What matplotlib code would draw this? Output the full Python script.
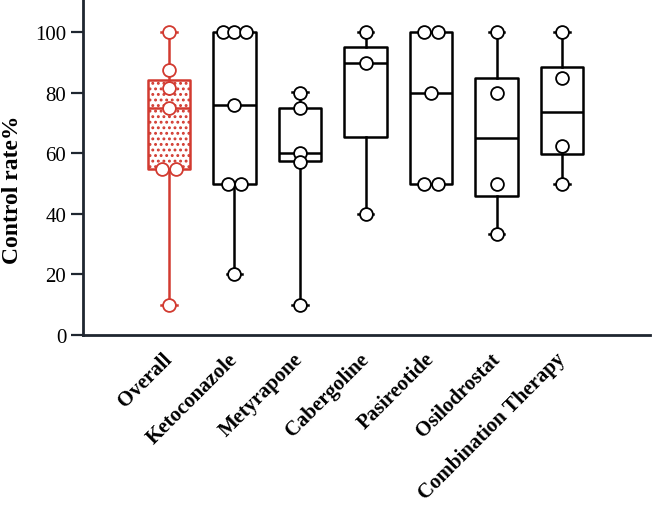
import matplotlib
matplotlib.use("Agg")
import matplotlib.pyplot as plt
import matplotlib.transforms as mtransforms
import numpy as np

plt.rcParams['font.family'] = ['Liberation Serif', 'DejaVu Serif']
RED = '#d23a30'
DARK = '#1f2630'
plt.rcParams['hatch.color'] = RED
plt.rcParams['hatch.linewidth'] = 1.3

categories = ["Overall", "Ketoconazole", "Metyrapone", "Cabergoline",
              "Pasireotide", "Osilodrostat", "Combination Therapy"]

# individual points per group
points = [
    [100, 87.5, 81.5, 75, 55, 55, 10],
    [100, 100, 100, 76, 50, 50, 20],
    [80, 75, 60, 57.1, 10],
    [100, 90, 40],
    [100, 100, 80, 50, 50],
    [100, 80, 50, 33.3],
    [100, 85, 62.5, 50],
]
# box statistics
whislo = [10, 20, 10, 40, 50, 33.3, 50]
q1 = [55, 50, 57.4, 65.5, 50, 46, 59.7]
med = [75, 76, 60.2, 90, 80, 65.2, 73.7]
q3 = [84.3, 100, 75, 95, 100, 84.8, 88.6]
whishi = [100, 100, 80.4, 100, 100, 100, 100]

yticks = [0, 20, 40, 60, 80, 100]

fig = plt.figure(figsize=(6.53, 5.06), dpi=100)
ax = fig.add_axes([83/653, 1 - 336/506, (650-83)/653, 336/506])

stats = []
for i, c in enumerate(categories):
    stats.append(dict(label=c, whislo=whislo[i], q1=q1[i], med=med[i],
                      q3=q3[i], whishi=whishi[i], fliers=[]))

pos = np.arange(len(categories))
bp = ax.bxp(stats, positions=pos, widths=0.65, patch_artist=True,
            showfliers=False, capwidths=0.24, manage_ticks=False)

for i in range(len(categories)):
    col = RED if i == 0 else 'black'
    box = bp['boxes'][i]
    box.set_facecolor('white')
    box.set_edgecolor(col)
    box.set_linewidth(1.8)
    box.set_joinstyle('round')
    if i == 0:
        box.set_hatch('...')
    bp['medians'][i].set_color(col)
    bp['medians'][i].set_linewidth(1.8)
    for w in bp['whiskers'][2*i:2*i+2]:
        w.set_color(col)
        w.set_linewidth(1.8)
    for cp in bp['caps'][2*i:2*i+2]:
        cp.set_color(col)
        cp.set_linewidth(1.8)

# points with simple swarm offsets for duplicate values
for i, vals in enumerate(points):
    col = RED if i == 0 else 'black'
    vals = np.asarray(vals, dtype=float)
    xs = np.full(len(vals), float(i))
    for v in np.unique(vals):
        idx = np.where(vals == v)[0]
        n = len(idx)
        if n > 1:
            sp = 0.21 if n == 2 else 0.17
            xs[idx] = i + (np.arange(n) - (n - 1) / 2) * sp
    ax.scatter(xs, vals, s=85, facecolor='white', edgecolor=col,
               linewidth=1.3, zorder=5, clip_on=False)

ax.set_xlim(-1.31, 7.34)
ax.set_ylim(0, 111)
ax.set_yticks(yticks)
ax.set_yticklabels([str(t) for t in yticks], fontsize=15)
ax.set_ylabel("Control rate%", fontsize=17, fontweight='bold')
ax.yaxis.set_label_coords(-0.106, 0.435)

ax.set_xticks(pos)
ax.set_xticklabels(categories, fontsize=15, fontweight='bold',
                   rotation=45, ha='right', rotation_mode='anchor', va='center')
offset = mtransforms.ScaledTranslation(8/100, 0, fig.dpi_scale_trans)
for lab in ax.get_xticklabels():
    lab.set_transform(lab.get_transform() + offset)
ax.tick_params(axis='x', length=0, pad=15)
ax.tick_params(axis='y', length=9, width=1.6, color=DARK, pad=3)

for s in ['top', 'right']:
    ax.spines[s].set_visible(False)
for s in ['left', 'bottom']:
    ax.spines[s].set_color(DARK)
    ax.spines[s].set_linewidth(2)

fig.savefig("out.png", dpi=100)
